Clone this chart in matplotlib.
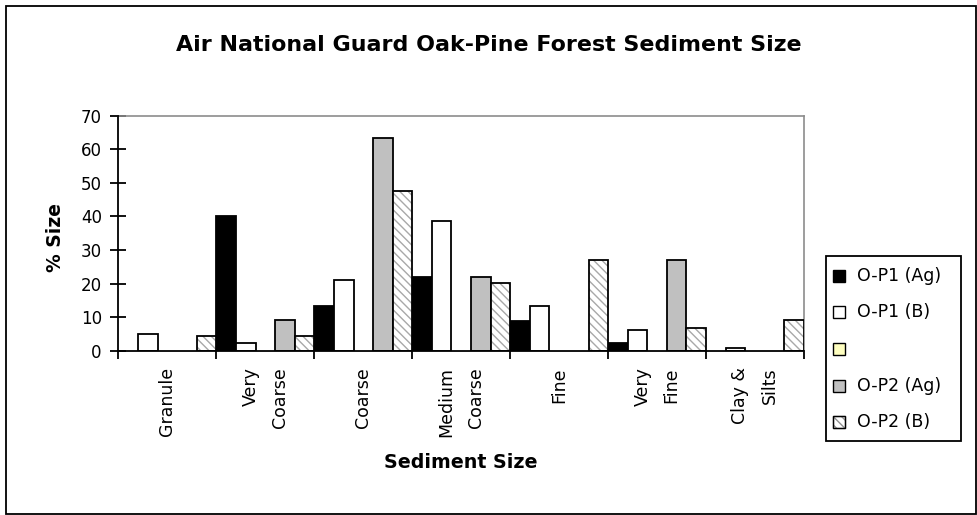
import matplotlib
matplotlib.use("Agg")
import matplotlib.pyplot as plt
from matplotlib.patches import Rectangle

# categories along the x axis
categories = ["Granule", "Very\nCoarse", "Coarse", "Medium\nCoarse",
              "Fine", "Very\nFine", "Clay &\nSilts"]

# % size per series
op1_ag = [0.0, 40.0, 13.3, 22.0, 8.7, 2.4, 0.0]
op1_b = [5.0, 2.3, 21.2, 38.7, 13.2, 6.3, 0.7]
blank = [0, 0, 0, 0, 0, 0, 0]
op2_ag = [0.0, 9.2, 63.5, 21.9, 0.0, 27.0, 0.0]
op2_b = [4.5, 4.5, 47.5, 20.1, 27.0, 6.9, 9.1]

series_labels = ["O-P1 (Ag)", "O-P1 (B)", "", "O-P2 (Ag)", "O-P2 (B)"]
yticks = [0, 10, 20, 30, 40, 50, 60, 70]

W, H = 978, 515
fig = plt.figure(figsize=(W / 100, H / 100), dpi=100)
plt.rcParams["font.family"] = ["DejaVu Sans"]


def fx(px):
    return px / W


def fy(py):
    return 1 - py / H


ax_l, ax_r, ax_t, ax_b = 118.5, 804, 115.7, 350.7
ax = fig.add_axes([fx(ax_l), fy(ax_b), fx(ax_r - ax_l), (ax_b - ax_t) / H])

n = len(categories)
slot = 0.2
x0 = list(range(n))

fills = ["black", "white", "#ffffc0", "#c0c0c0"]
all_series = [op1_ag, op1_b, blank, op2_ag]
for j, (vals, fc) in enumerate(zip(all_series, fills)):
    keep = [k for k, v in enumerate(vals) if v > 0]
    ax.bar([x0[k] + j * slot for k in keep], [vals[k] for k in keep],
           width=slot, align="edge", facecolor=fc, edgecolor="black",
           linewidth=1.3, zorder=3)

# hatched series: gray hatch first, black outline on top
xs = [i + 4 * slot for i in x0]
ax.bar(xs, op2_b, width=slot, align="edge", facecolor="white",
       edgecolor="#a8a8a8", hatch="\\\\\\\\", linewidth=0, zorder=3)
ax.bar(xs, op2_b, width=slot, align="edge", fill=False,
       edgecolor="black", linewidth=1.3, zorder=4)

ax.set_xlim(0, n)
ax.set_ylim(0, 70)
ax.set_yticks(yticks)
ax.set_yticklabels([str(t) for t in yticks], fontsize=12)
ax.tick_params(axis="y", direction="inout", length=12, width=1.3, pad=6)

ax.set_xticks([i + 0.5 for i in x0])
ax.set_xticklabels(categories, rotation=90, fontsize=12.5, va="top",
                   ha="center", multialignment="right", linespacing=1.8)
ax.set_xticks(range(n + 1), minor=True)
ax.tick_params(axis="x", which="major", length=0, pad=12)
ax.tick_params(axis="x", which="minor", direction="out", length=6, width=1.3)

for side in ["left", "bottom"]:
    ax.spines[side].set_linewidth(1.3)
    ax.spines[side].set_color("black")
    ax.spines[side].set_zorder(5)
for side in ["top", "right"]:
    ax.spines[side].set_linewidth(1.2)
    ax.spines[side].set_color("#8c8c8c")

fig.text(fx(489), fy(45), "Air National Guard Oak-Pine Forest Sediment Size",
         ha="center", va="center", fontsize=15.9, fontweight="bold")
fig.text(fx(56), fy(237), "% Size", ha="center", va="center", rotation=90,
         fontsize=13.5, fontweight="bold")
fig.text(fx(461), fy(463), "Sediment Size", ha="center", va="center",
         fontsize=13.7, fontweight="bold")

# legend drawn by hand in pixel positions
fig.patches.append(Rectangle((fx(825.7), fy(440.7)), fx(135), 185 / H,
                             transform=fig.transFigure, facecolor="white",
                             edgecolor="black", linewidth=1.3))
leg_fills = ["black", "white", "#ffffc0", "#c0c0c0", "white"]
leg_hatch = [None, None, None, None, "\\\\\\\\"]
rows = [275.7, 311.7, 349.0, 385.7, 422.0]
for lab, fc, hat, ry in zip(series_labels, leg_fills, leg_hatch, rows):
    fig.patches.append(Rectangle((fx(833), fy(ry + 6)), fx(12), 12 / H,
                                 transform=fig.transFigure, facecolor=fc,
                                 edgecolor="#909090" if hat else "black",
                                 hatch=hat, linewidth=1.0))
    if hat:
        fig.patches.append(Rectangle((fx(833), fy(ry + 6)), fx(12), 12 / H,
                                     transform=fig.transFigure, fill=False,
                                     edgecolor="black", linewidth=1.0))
    fig.text(fx(857), fy(ry), lab, ha="left", va="center", fontsize=12.5)

# outer chart border
fig.patches.append(Rectangle((fx(5.5), fy(513.5)), fx(971), 508 / H,
                             transform=fig.transFigure, fill=False,
                             edgecolor="black", linewidth=1.3))

fig.savefig("out.png", dpi=100)
